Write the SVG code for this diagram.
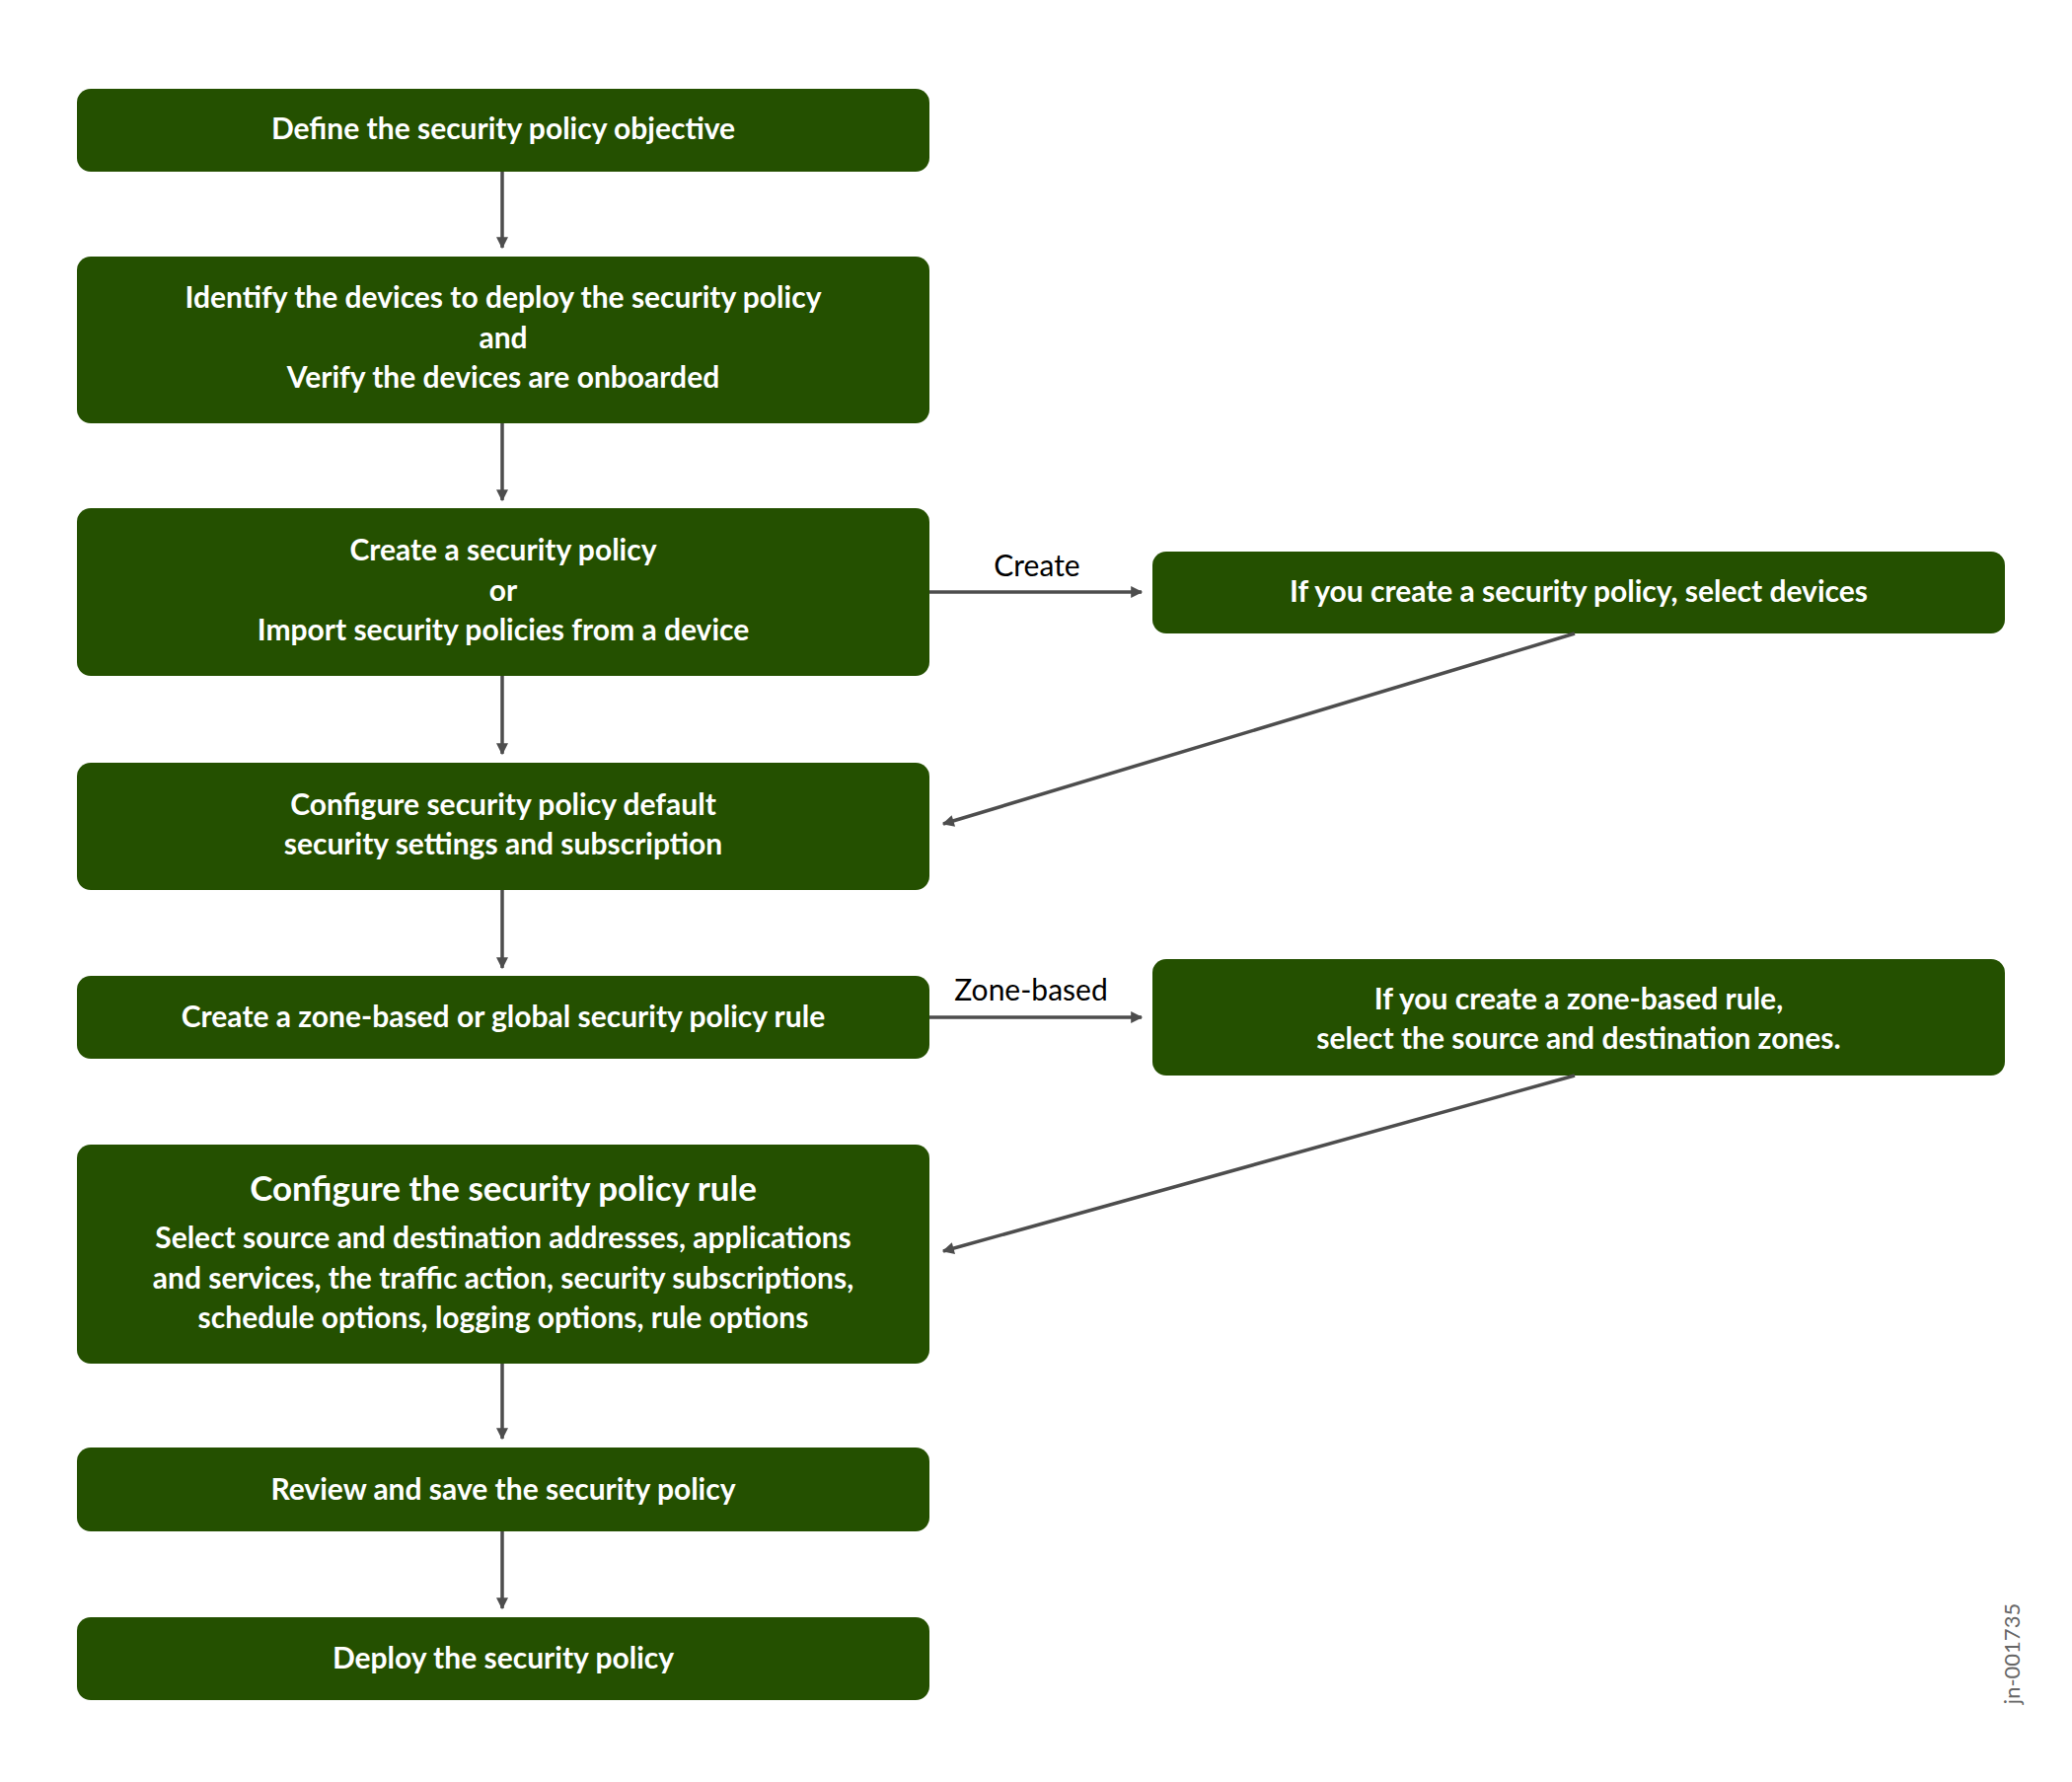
<svg xmlns="http://www.w3.org/2000/svg" width="2100" height="1806" viewBox="0 0 2100 1806">
<defs>
<style>
.b{fill:#245000}
.t{font-family:Lato,"Open Sans",sans-serif;font-weight:bold;font-size:30px;fill:#fff;text-anchor:middle}
.h{font-size:35px}
.l{font-family:Lato,"Open Sans",sans-serif;font-size:30px;fill:#000;text-anchor:middle}
.c{stroke:#4d4d4d;stroke-width:3.5;fill:none;marker-end:url(#a)}
</style>
<marker id="a" viewBox="0 0 10 10" refX="9" refY="5" markerWidth="6" markerHeight="6" orient="auto" markerUnits="userSpaceOnUse" style="overflow:visible"><path d="M0,0L10,5L0,10z" fill="#4d4d4d" transform="scale(2)translate(-4.5,-2.5)"/></marker>
</defs>
<rect width="2100" height="1806" fill="#fff"/>
<g id="n1"><rect class="b" x="78" y="90" width="864" height="84" rx="14"/><text class="t" x="510" y="141">Define the security policy objective</text></g>
<g id="n2"><rect class="b" x="78" y="260" width="864" height="169" rx="14"/><text class="t" x="510" y="312">Identify the devices to deploy the security policy</text><text class="t" x="510" y="353">and</text><text class="t" x="510" y="393">Verify the devices are onboarded</text></g>
<g id="n3"><rect class="b" x="78" y="515" width="864" height="170" rx="14"/><text class="t" x="510" y="568">Create a security policy</text><text class="t" x="510" y="609">or</text><text class="t" x="510" y="649">Import security policies from a device</text></g>
<g id="n4"><rect class="b" x="78" y="773" width="864" height="129" rx="14"/><text class="t" x="510" y="826">Configure security policy default</text><text class="t" x="510" y="866">security settings and subscription</text></g>
<g id="n5"><rect class="b" x="78" y="989" width="864" height="84" rx="14"/><text class="t" x="510" y="1041">Create a zone-based or global security policy rule</text></g>
<g id="n6"><rect class="b" x="78" y="1160" width="864" height="222" rx="14"/><text class="t h" x="510" y="1217">Configure the security policy rule</text><text class="t" x="510" y="1265">Select source and destination addresses, applications</text><text class="t" x="510" y="1306">and services, the traffic action, security subscriptions,</text><text class="t" x="510" y="1346">schedule options, logging options, rule options</text></g>
<g id="n7"><rect class="b" x="78" y="1467" width="864" height="85" rx="14"/><text class="t" x="510" y="1520">Review and save the security policy</text></g>
<g id="n8"><rect class="b" x="78" y="1639" width="864" height="84" rx="14"/><text class="t" x="510" y="1691">Deploy the security policy</text></g>
<g id="nA"><rect class="b" x="1168" y="559" width="864" height="83" rx="14"/><text class="t" x="1600" y="610">If you create a security policy, select devices</text></g>
<g id="nB"><rect class="b" x="1168" y="972" width="864" height="118" rx="14"/><text class="t" x="1600" y="1023">If you create a zone-based rule,</text><text class="t" x="1600" y="1063">select the source and destination zones.</text></g>
<g id="connectors">
<path class="c" d="M509,174V251"/>
<path class="c" d="M509,429V507"/>
<path class="c" d="M509,685V764"/>
<path class="c" d="M509,902V981"/>
<path class="c" d="M509,1382V1458"/>
<path class="c" d="M509,1552V1630"/>
<path class="c" d="M942,600H1157"/>
<path class="c" d="M942,1031H1157"/>
<path class="c" d="M1596,642L956,835"/>
<path class="c" d="M1596,1090L956,1268"/>
<text class="l" x="1051" y="584">Create</text>
<text class="l" x="1045" y="1014">Zone-based</text>
</g>
<text transform="translate(2047,1676)rotate(-90)" font-family="Lato,sans-serif" font-size="22" fill="#666" text-anchor="middle">jn-001735</text>
</svg>
